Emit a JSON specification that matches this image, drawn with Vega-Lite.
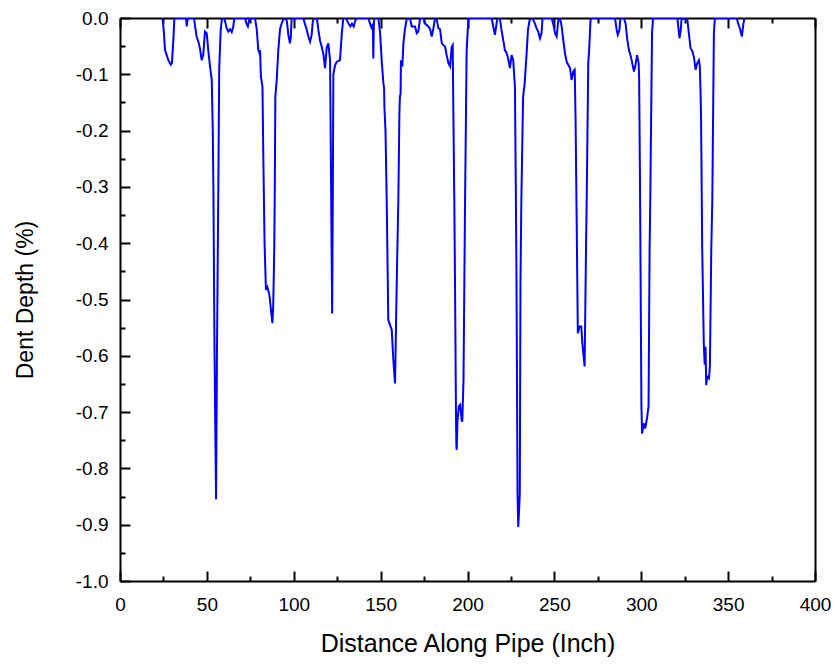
{
  "$schema": "https://vega.github.io/schema/vega-lite/v6.json",
  "width": 695,
  "height": 563,
  "autosize": "none",
  "padding": {"left": 120, "top": 18, "right": 21, "bottom": 84},
  "background": "white",
  "config": {
    "view": {"stroke": null},
    "font": "Liberation Sans",
    "axis": {"grid": false, "domainColor": "black", "tickColor": "black", "labelColor": "black", "titleColor": "black", "labelFont": "Liberation Sans", "titleFont": "Liberation Sans", "titleFontWeight": "normal", "labelFlush": false, "labelOverlap": false, "zindex": 1}
  },
  "datasets": {
    "pipe": [
      {"distance":24.5,"depth":0},{"distance":25.3,"depth":-0.027},{"distance":25.9,"depth":-0.057},{"distance":26.9,"depth":-0.066},{"distance":27.8,"depth":-0.075},{"distance":29.2,"depth":-0.083},{"distance":29.9,"depth":-0.08},{"distance":30.7,"depth":-0.039},{"distance":31.3,"depth":0},
      {"distance":38.0,"depth":0},{"distance":38.4,"depth":-0.015},{"distance":39.0,"depth":0},
      {"distance":42.6,"depth":0},{"distance":43.2,"depth":-0.015},{"distance":44.1,"depth":-0.033},{"distance":45.1,"depth":-0.042},{"distance":46.0,"depth":-0.054},{"distance":47.0,"depth":-0.075},{"distance":47.9,"depth":-0.066},{"distance":48.9,"depth":-0.024},{"distance":49.9,"depth":-0.027},{"distance":50.8,"depth":-0.057},{"distance":51.8,"depth":-0.086},{"distance":52.8,"depth":-0.11},{"distance":53.4,"depth":-0.2},{"distance":53.8,"depth":-0.32},{"distance":54.3,"depth":-0.55},{"distance":54.8,"depth":-0.72},{"distance":55.3,"depth":-0.855},{"distance":55.8,"depth":-0.6},{"distance":56.6,"depth":-0.3},{"distance":57.1,"depth":-0.09},{"distance":57.6,"depth":-0.05},{"distance":58.0,"depth":-0.02},{"distance":58.5,"depth":-0.005},{"distance":59.0,"depth":0},{"distance":60.0,"depth":0},{"distance":61.4,"depth":-0.018},{"distance":62.3,"depth":-0.024},{"distance":63.3,"depth":-0.02},{"distance":64.3,"depth":-0.025},{"distance":65.2,"depth":-0.015},{"distance":65.8,"depth":0},
      {"distance":72.0,"depth":0},{"distance":72.8,"depth":-0.01},{"distance":73.6,"depth":-0.015},{"distance":74.3,"depth":-0.005},{"distance":74.8,"depth":0},
      {"distance":77.7,"depth":0},{"distance":78.7,"depth":-0.02},{"distance":79.6,"depth":-0.057},{"distance":80.2,"depth":-0.062},{"distance":80.6,"depth":-0.057},{"distance":81.1,"depth":-0.104},{"distance":82.0,"depth":-0.122},{"distance":82.5,"depth":-0.25},{"distance":83.2,"depth":-0.4},{"distance":84.0,"depth":-0.483},{"distance":84.8,"depth":-0.478},{"distance":85.4,"depth":-0.485},{"distance":85.9,"depth":-0.49},{"distance":86.7,"depth":-0.513},{"distance":87.7,"depth":-0.542},{"distance":88.2,"depth":-0.51},{"distance":88.8,"depth":-0.406},{"distance":89.1,"depth":-0.3},{"distance":89.4,"depth":-0.14},{"distance":90.2,"depth":-0.11},{"distance":91.1,"depth":-0.057},{"distance":92.1,"depth":-0.02},{"distance":93.0,"depth":-0.01},{"distance":93.9,"depth":-0.003},{"distance":95.0,"depth":0},{"distance":96.0,"depth":-0.005},{"distance":96.9,"depth":-0.03},{"distance":97.8,"depth":-0.045},{"distance":98.3,"depth":-0.035},{"distance":98.8,"depth":0},
      {"distance":105.5,"depth":0},{"distance":106.4,"depth":-0.01},{"distance":107.4,"depth":-0.02},{"distance":108.4,"depth":-0.033},{"distance":109.4,"depth":-0.042},{"distance":110.3,"depth":-0.03},{"distance":111.0,"depth":-0.005},{"distance":112.0,"depth":0},{"distance":113.3,"depth":0},{"distance":114.2,"depth":-0.022},{"distance":115.1,"depth":-0.04},{"distance":116.1,"depth":-0.051},{"distance":117.1,"depth":-0.065},{"distance":118.0,"depth":-0.089},{"distance":119.0,"depth":-0.052},{"distance":119.9,"depth":-0.045},{"distance":120.9,"depth":-0.075},{"distance":121.5,"depth":-0.3},{"distance":122.1,"depth":-0.525},{"distance":122.5,"depth":-0.3},{"distance":122.8,"depth":-0.1},{"distance":123.7,"depth":-0.085},{"distance":124.7,"depth":-0.078},{"distance":126.6,"depth":-0.075},{"distance":127.6,"depth":-0.03},{"distance":128.5,"depth":0},{"distance":130.0,"depth":0},{"distance":131.5,"depth":-0.01},{"distance":132.6,"depth":-0.015},{"distance":133.5,"depth":-0.01},{"distance":134.5,"depth":-0.015},{"distance":135.4,"depth":-0.005},{"distance":136.4,"depth":0},
      {"distance":142.9,"depth":0},{"distance":143.9,"depth":-0.01},{"distance":145.0,"depth":-0.02},{"distance":145.5,"depth":-0.01},{"distance":145.8,"depth":-0.072},{"distance":146.1,"depth":-0.01},{"distance":146.4,"depth":0},
      {"distance":148.7,"depth":0},{"distance":149.7,"depth":-0.027},{"distance":150.6,"depth":-0.075},{"distance":151.6,"depth":-0.116},{"distance":152.0,"depth":-0.125},{"distance":152.2,"depth":-0.16},{"distance":152.8,"depth":-0.2},{"distance":153.5,"depth":-0.323},{"distance":154.4,"depth":-0.536},{"distance":155.4,"depth":-0.545},{"distance":156.4,"depth":-0.554},{"distance":157.3,"depth":-0.607},{"distance":158.3,"depth":-0.649},{"distance":159.3,"depth":-0.465},{"distance":160.2,"depth":-0.323},{"distance":160.8,"depth":-0.17},{"distance":161.1,"depth":-0.14},{"distance":161.5,"depth":-0.134},{"distance":161.7,"depth":-0.075},{"distance":162.5,"depth":-0.086},{"distance":163.1,"depth":-0.045},{"distance":164.0,"depth":-0.02},{"distance":165.0,"depth":-0.002},{"distance":166.9,"depth":0},{"distance":167.9,"depth":-0.015},{"distance":169.8,"depth":-0.015},{"distance":170.8,"depth":-0.027},{"distance":171.7,"depth":-0.024},{"distance":172.7,"depth":0},
      {"distance":174.6,"depth":0},{"distance":175.6,"depth":-0.01},{"distance":177.5,"depth":-0.015},{"distance":178.5,"depth":-0.02},{"distance":179.4,"depth":-0.033},{"distance":180.4,"depth":-0.018},{"distance":181.3,"depth":0},{"distance":182.3,"depth":-0.003},{"distance":183.2,"depth":-0.018},{"distance":184.2,"depth":-0.02},{"distance":185.2,"depth":-0.045},{"distance":187.1,"depth":-0.051},{"distance":188.0,"depth":-0.066},{"distance":189.0,"depth":-0.08},{"distance":190.0,"depth":-0.086},{"distance":190.9,"depth":-0.051},{"distance":191.5,"depth":-0.048},{"distance":191.8,"depth":-0.146},{"distance":192.4,"depth":-0.323},{"distance":192.8,"depth":-0.465},{"distance":193.4,"depth":-0.714},{"distance":193.6,"depth":-0.761},{"distance":193.8,"depth":-0.767},{"distance":194.2,"depth":-0.717},{"distance":195.0,"depth":-0.69},{"distance":195.8,"depth":-0.687},{"distance":196.6,"depth":-0.714},{"distance":197.0,"depth":-0.717},{"distance":197.7,"depth":-0.643},{"distance":198.2,"depth":-0.465},{"distance":198.6,"depth":-0.323},{"distance":199.5,"depth":-0.06},{"distance":200.5,"depth":0},
      {"distance":213.9,"depth":0},{"distance":214.8,"depth":-0.015},{"distance":215.8,"depth":-0.03},{"distance":216.7,"depth":-0.01},{"distance":217.3,"depth":0},{"distance":218.6,"depth":0},{"distance":219.6,"depth":-0.022},{"distance":220.9,"depth":-0.045},{"distance":221.5,"depth":-0.057},{"distance":222.5,"depth":-0.062},{"distance":223.4,"depth":-0.072},{"distance":224.4,"depth":-0.089},{"distance":225.4,"depth":-0.066},{"distance":226.3,"depth":-0.075},{"distance":227.3,"depth":-0.122},{"distance":227.8,"depth":-0.3},{"distance":228.2,"depth":-0.465},{"distance":228.8,"depth":-0.844},{"distance":229.2,"depth":-0.904},{"distance":229.7,"depth":-0.874},{"distance":230.1,"depth":-0.844},{"distance":230.5,"depth":-0.465},{"distance":231.0,"depth":-0.323},{"distance":232.0,"depth":-0.14},{"distance":232.9,"depth":-0.116},{"distance":233.9,"depth":-0.069},{"distance":234.8,"depth":-0.021},{"distance":235.8,"depth":-0.003},{"distance":236.9,"depth":0},{"distance":237.8,"depth":-0.003},{"distance":238.8,"depth":-0.01},{"distance":239.7,"depth":-0.018},{"distance":240.7,"depth":-0.024},{"distance":241.7,"depth":-0.036},{"distance":242.6,"depth":-0.027},{"distance":243.2,"depth":0},
      {"distance":248.4,"depth":0},{"distance":249.3,"depth":-0.01},{"distance":250.4,"depth":-0.027},{"distance":251.3,"depth":-0.033},{"distance":252.3,"depth":-0.003},{"distance":253.2,"depth":0},{"distance":254.2,"depth":-0.015},{"distance":255.1,"depth":-0.039},{"distance":256.1,"depth":-0.063},{"distance":257.1,"depth":-0.078},{"distance":258.0,"depth":-0.083},{"distance":259.0,"depth":-0.089},{"distance":259.9,"depth":-0.11},{"distance":260.9,"depth":-0.095},{"distance":261.7,"depth":-0.092},{"distance":262.2,"depth":-0.181},{"distance":262.8,"depth":-0.35},{"distance":263.5,"depth":-0.56},{"distance":264.5,"depth":-0.548},{"distance":265.5,"depth":-0.548},{"distance":266.1,"depth":-0.578},{"distance":267.4,"depth":-0.619},{"distance":268.2,"depth":-0.412},{"distance":268.6,"depth":-0.323},{"distance":269.5,"depth":-0.08},{"distance":270.0,"depth":-0.057},{"distance":270.8,"depth":-0.004},{"distance":271.3,"depth":0},
      {"distance":284.9,"depth":0},{"distance":285.9,"depth":-0.022},{"distance":286.5,"depth":-0.03},{"distance":287.4,"depth":-0.022},{"distance":288.0,"depth":0},{"distance":290.0,"depth":0},{"distance":291.0,"depth":-0.01},{"distance":292.0,"depth":-0.039},{"distance":292.9,"depth":-0.057},{"distance":293.8,"depth":-0.066},{"distance":294.8,"depth":-0.08},{"distance":295.8,"depth":-0.095},{"distance":296.7,"depth":-0.083},{"distance":297.6,"depth":-0.066},{"distance":298.5,"depth":-0.08},{"distance":298.8,"depth":-0.11},{"distance":299.3,"depth":-0.3},{"distance":299.6,"depth":-0.45},{"distance":300.1,"depth":-0.69},{"distance":300.5,"depth":-0.738},{"distance":301.4,"depth":-0.72},{"distance":302.3,"depth":-0.729},{"distance":303.3,"depth":-0.711},{"distance":304.2,"depth":-0.69},{"distance":304.8,"depth":-0.412},{"distance":305.2,"depth":-0.323},{"distance":306.2,"depth":-0.027},{"distance":306.8,"depth":0},
      {"distance":320.8,"depth":0},{"distance":322.0,"depth":-0.036},{"distance":322.7,"depth":-0.022},{"distance":323.2,"depth":-0.002},{"distance":324.5,"depth":0},{"distance":325.5,"depth":-0.003},{"distance":326.4,"depth":0},{"distance":327.4,"depth":-0.027},{"distance":328.4,"depth":-0.054},{"distance":329.3,"depth":-0.058},{"distance":330.3,"depth":-0.069},{"distance":331.3,"depth":-0.092},{"distance":332.2,"depth":-0.08},{"distance":333.2,"depth":-0.075},{"distance":333.7,"depth":-0.086},{"distance":334.1,"depth":-0.128},{"distance":334.4,"depth":-0.172},{"distance":335.1,"depth":-0.412},{"distance":336.0,"depth":-0.578},{"distance":336.5,"depth":-0.616},{"distance":337.0,"depth":-0.584},{"distance":337.4,"depth":-0.652},{"distance":338.0,"depth":-0.637},{"distance":339.0,"depth":-0.64},{"distance":339.5,"depth":-0.619},{"distance":340.3,"depth":-0.412},{"distance":340.9,"depth":-0.323},{"distance":341.8,"depth":-0.027},{"distance":342.4,"depth":0},
      {"distance":354.9,"depth":0},{"distance":355.8,"depth":-0.01},{"distance":356.9,"depth":-0.02},{"distance":357.9,"depth":-0.033},{"distance":358.8,"depth":-0.01},{"distance":359.4,"depth":0}
    ]
  },
  "data": {"name": "pipe"},
  "resolve": {"axis": {"x": "independent", "y": "independent"}},
  "layer": [
    {
      "mark": {"type": "line", "color": "#0000FF", "strokeWidth": 2, "clip": true},
      "encoding": {
        "x": {"field": "distance", "type": "quantitative",
          "scale": {"domain": [0, 400], "nice": false, "zero": false},
          "axis": {"orient": "bottom", "values": [0, 50, 100, 150, 200, 250, 300, 350, 400], "format": "d",
            "title": "Distance Along Pipe (Inch)", "tickSize": -10, "tickWidth": 2, "domainWidth": 2,
            "labelPadding": 24, "labelFontSize": 19, "titleFontSize": 25, "titlePadding": 17}},
        "y": {"field": "depth", "type": "quantitative",
          "scale": {"domain": [-1, 0], "nice": false, "zero": false},
          "axis": {"orient": "left", "values": [0, -0.1, -0.2, -0.3, -0.4, -0.5, -0.6, -0.7, -0.8, -0.9, -1], "format": ".1f",
            "labelExpr": "replace(datum.label, '\u2212', '-')",
            "title": "Dent Depth (%)", "tickSize": -10, "tickWidth": 2, "domainWidth": 2,
            "labelPadding": 22, "labelFontSize": 19, "titleFontSize": 23, "titlePadding": 38}}
      }
    },
    {
      "mark": {"type": "line", "opacity": 0},
      "encoding": {
        "x": {"field": "distance", "type": "quantitative",
          "axis": {"orient": "bottom", "values": [25, 75, 125, 175, 225, 275, 325, 375], "labels": false, "domain": false,
            "title": null, "tickSize": -5, "tickWidth": 2}},
        "y": {"field": "depth", "type": "quantitative",
          "axis": {"orient": "left", "values": [-0.05, -0.15, -0.25, -0.35, -0.45, -0.55, -0.65, -0.75, -0.85, -0.95], "labels": false, "domain": false,
            "title": null, "tickSize": -5, "tickWidth": 2}}
      }
    },
    {
      "mark": {"type": "line", "opacity": 0},
      "encoding": {
        "x": {"field": "distance", "type": "quantitative",
          "axis": {"orient": "top", "values": [0, 50, 100, 150, 200, 250, 300, 350, 400], "labels": false, "domain": true, "domainWidth": 2,
            "title": null, "tickSize": -10, "tickWidth": 2}},
        "y": {"field": "depth", "type": "quantitative",
          "axis": {"orient": "right", "labels": false, "ticks": false, "domain": true, "domainWidth": 2, "title": null}}
      }
    },
    {
      "mark": {"type": "line", "opacity": 0},
      "encoding": {
        "x": {"field": "distance", "type": "quantitative",
          "axis": {"orient": "top", "values": [25, 75, 125, 175, 225, 275, 325, 375], "labels": false, "domain": false,
            "title": null, "tickSize": -5, "tickWidth": 2}},
        "y": {"field": "depth", "type": "quantitative", "axis": null}
      }
    }
  ]
}
